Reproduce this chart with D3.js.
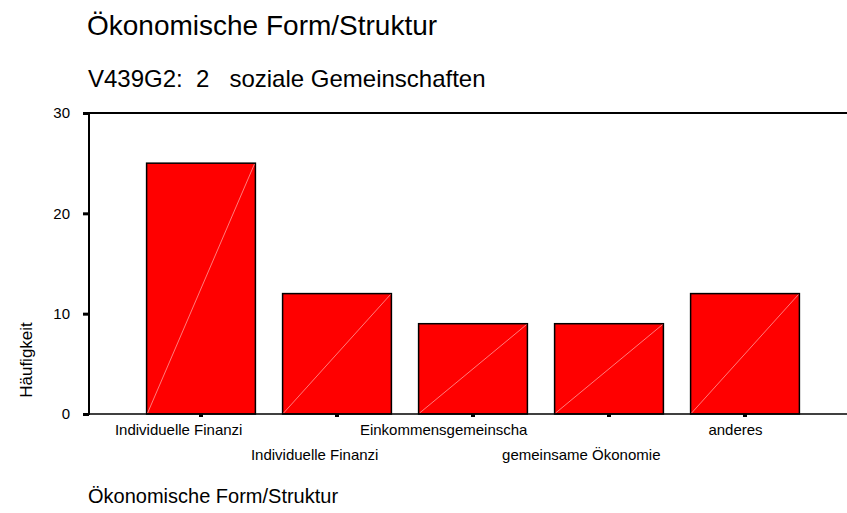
<!DOCTYPE html>
<html>
<head>
	<meta charset="utf-8">
	<title>Ökonomische Form/Struktur</title>
	<script src="https://cdnjs.cloudflare.com/ajax/libs/d3/7.8.5/d3.min.js"></script>
	<style>
		body { margin: 0; background: #fff; }
		text { font-family: Arial, "Liberation Sans", sans-serif; fill: #000; }
	</style>
</head>
<body>
	<div id="chartDiv"></div>
	<script>
		const chartTitle = 'Ökonomische Form/Struktur';
		const subTitle = 'V439G2:  2   soziale Gemeinschaften';
		const yLabel = 'Häufigkeit';
		const xLabel = 'Ökonomische Form/Struktur';

		const categories = [
			'Individuelle Finanzi',
			'Individuelle Finanzi ',
			'Einkommensgemeinscha',
			'gemeinsame Ökonomie',
			'anderes'
		];
		const counts = [25, 12, 9, 9, 12];
		const yTicks = [0, 10, 20, 30];

		const width = 847, height = 513;
		const margin = { left: 89, top: 113, bottom: 99 };
		const plotBottom = height - margin.bottom;

		const svg = d3.select('#chartDiv').append('svg')
			.attr('width', width)
			.attr('height', height);

		//scales
		const xScale = d3.scaleBand()
			.domain(categories)
			.range([133, 813])
			.paddingInner(0.2)
			.paddingOuter(0.1);

		const yScale = d3.scaleLinear()
			.domain([0, 30])
			.range([plotBottom, margin.top]);

		//titles
		svg.append('text')
			.attr('x', 87).attr('y', 35)
			.style('font-size', '28px')
			.text(chartTitle);

		svg.append('text')
			.attr('x', 88).attr('y', 87)
			.style('font-size', '24px')
			.style('white-space', 'pre')
			.text(subTitle);

		//frame (right side is cut off in the original)
		svg.append('line')
			.attr('x1', margin.left).attr('x2', width + 5)
			.attr('y1', margin.top).attr('y2', margin.top)
			.attr('stroke', '#000').attr('stroke-width', 2);

		//bars
		const bars = svg.append('g').attr('class', 'bars');
		bars.selectAll('rect')
			.data(counts)
			.join('rect')
			.attr('x', (d, i) => xScale(categories[i]))
			.attr('y', d => yScale(d))
			.attr('width', xScale.bandwidth())
			.attr('height', d => yScale(0) - yScale(d))
			.attr('fill', '#ff0000')
			.attr('stroke', '#000')
			.attr('stroke-width', 1.5);

		//faint diagonal inside each bar
		bars.selectAll('line')
			.data(counts)
			.join('line')
			.attr('x1', (d, i) => xScale(categories[i]) + 1)
			.attr('y1', yScale(0) - 1)
			.attr('x2', (d, i) => xScale(categories[i]) + xScale.bandwidth() - 1)
			.attr('y2', d => yScale(d) + 1)
			.attr('stroke', '#ff9a9a')
			.attr('stroke-width', 0.8);

		//y axis
		const yAxisG = svg.append('g')
			.attr('transform', `translate(${margin.left},0)`)
			.call(d3.axisLeft(yScale).tickValues(yTicks).tickSize(0).tickPadding(19));
		yAxisG.select('.domain').remove();
		yAxisG.selectAll('.tick text')
			.style('font-size', '15px')
			.style('font-family', 'Arial, "Liberation Sans", sans-serif');
		yAxisG.selectAll('.tick').append('rect')
			.attr('x', -6).attr('y', -1.5)
			.attr('width', 6).attr('height', 3)
			.attr('fill', '#000');
		yAxisG.append('line')
			.attr('x1', 0).attr('x2', 0)
			.attr('y1', margin.top - 1).attr('y2', plotBottom + 1)
			.attr('stroke', '#000').attr('stroke-width', 2);

		//x axis
		const xAxisG = svg.append('g')
			.attr('transform', `translate(0,${plotBottom})`)
			.call(d3.axisBottom(xScale).tickSize(0).tickFormat(''));
		xAxisG.select('.domain').remove();
		xAxisG.selectAll('.tick').append('rect')
			.attr('x', -2).attr('y', 0)
			.attr('width', 4).attr('height', 3)
			.attr('fill', '#000');
		xAxisG.append('line')
			.attr('x1', margin.left).attr('x2', width + 5)
			.attr('y1', 0).attr('y2', 0)
			.attr('stroke', '#000').attr('stroke-width', 1.5);

		//staggered category labels, shifted left a bit like the original
		const catLabels = svg.append('g').attr('class', 'catLabels');
		catLabels.selectAll('text')
			.data(categories)
			.join('text')
			.attr('y', (d, i) => i % 2 === 0 ? 435 : 460)
			.style('font-size', '15px')
			.text(d => d.trim())
			.attr('x', function(d) {
				const w = this.getComputedTextLength();
				return xScale(d) + xScale.bandwidth() / 2 - 0.675 * w;
			});

		//axis titles
		svg.append('text')
			.attr('transform', `translate(32,360) rotate(-90)`)
			.style('font-size', '17px')
			.style('text-anchor', 'middle')
			.text(yLabel);

		svg.append('text')
			.attr('x', 88).attr('y', 503)
			.style('font-size', '20px')
			.text(xLabel);
	</script>
</body>
</html>
